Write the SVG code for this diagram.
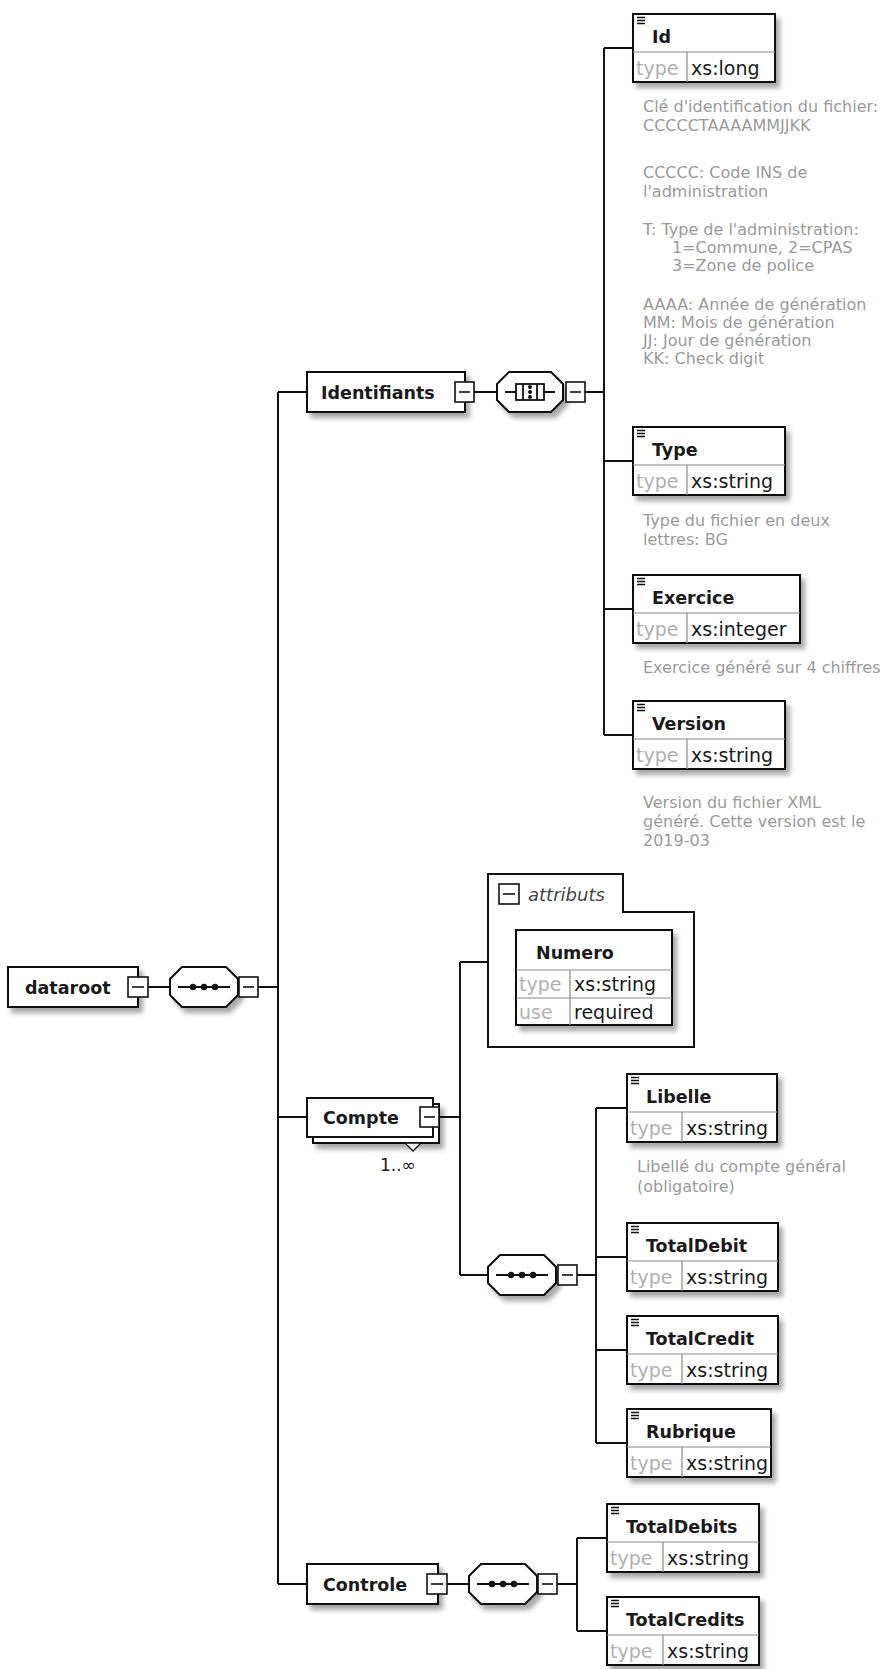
<svg xmlns="http://www.w3.org/2000/svg" width="883" height="1669" viewBox="0 0 883 1669">
<defs>
<filter id="sh" x="-10%" y="-10%" width="130%" height="150%">
<feDropShadow dx="4" dy="5" stdDeviation="2.5" flood-color="#000" flood-opacity="0.35"/>
</filter>
<style>
.box{fill:#fff;stroke:#111;stroke-width:2}
.sep{fill:none;stroke:#8a8a8a;stroke-width:1.2}
.ico{fill:none;stroke:#111;stroke-width:1.3}
.sq{fill:#fff;stroke:#111;stroke-width:1.6}
.mn{fill:none;stroke:#111;stroke-width:1.6}
.oct{fill:#fff;stroke:#111;stroke-width:2}
.ln{fill:none;stroke:#111;stroke-width:2}
.sym{fill:none;stroke:#111;stroke-width:1.8}
.dot{fill:#111}
.nm{font-family:"DejaVu Sans","Liberation Sans",sans-serif;font-weight:bold;font-size:17.5px;fill:#1a1a1a}
.tl{font-family:"DejaVu Sans","Liberation Sans",sans-serif;font-size:19px;fill:#b0b0b0}
.tv{font-family:"DejaVu Sans","Liberation Sans",sans-serif;font-size:19px;fill:#1a1a1a}
.an{font-family:"DejaVu Sans","Liberation Sans",sans-serif;font-size:16px;fill:#9a9a9a}
.it{font-family:"DejaVu Sans","Liberation Sans",sans-serif;font-style:italic;font-size:18px;fill:#444}
.oc{font-family:"DejaVu Sans","Liberation Sans",sans-serif;font-size:17px;fill:#1a1a1a}
</style>
</defs>
<rect width="883" height="1669" fill="#fff"/>

<g id="connectors">
<path class="ln" d="M148,987H170M258,987H278"/>
<path class="ln" d="M278,392V1584M278,392H307M278,1117H307M278,1584H307"/>
<path class="ln" d="M474,392H497M585,392H604"/>
<path class="ln" d="M604,48V735M604,48H633M604,461H633M604,609H633M604,735H633"/>
<path class="ln" d="M439,1117H460M460,962V1275M460,962H488M460,1275H488"/>
<path class="ln" d="M577,1275H596M596,1108V1443M596,1108H627M596,1257H627M596,1350H627M596,1443H627"/>
<path class="ln" d="M447,1584H469M557,1584H577M577,1538V1631M577,1538H607M577,1631H607"/>
</g>

<g id="n-dataroot">
<rect class="box" x="8" y="967" width="130" height="40" filter="url(#sh)"/>
<text class="nm" x="25" y="994">dataroot</text>
<rect class="sq" x="128" y="977" width="20" height="20"/>
<path class="mn" d="M132,987H144"/>
</g>

<g id="n-dataroot-seq">
<polygon class="oct" points="182,967 226,967 238,979 238,995 226,1007 182,1007 170,995 170,979" filter="url(#sh)"/>
<path class="sym" d="M178,987H230"/>
<circle class="dot" cx="193" cy="987" r="3.2"/><circle class="dot" cx="204" cy="987" r="3.2"/><circle class="dot" cx="215" cy="987" r="3.2"/>
<rect class="sq" x="239" y="977" width="19" height="20"/>
<path class="mn" d="M243,987H254"/>
</g>

<g id="n-Identifiants">
<rect class="box" x="307" y="372" width="158" height="40" filter="url(#sh)"/>
<text class="nm" x="321" y="399">Identifiants</text>
<rect class="sq" x="455" y="382" width="19" height="20"/>
<path class="mn" d="M459,392H470"/>
</g>

<g id="n-Identifiants-all">
<polygon class="oct" points="509,372 551,372 563,384 563,400 551,412 509,412 497,400 497,384" filter="url(#sh)"/>
<path class="sym" d="M505,392H516M544,392H555"/>
<rect class="sym" x="516" y="384" width="28" height="16"/>
<path class="sym" d="M523,384V400M537,384V400"/>
<circle class="dot" cx="530" cy="387" r="2"/><circle class="dot" cx="530" cy="392" r="2"/><circle class="dot" cx="530" cy="397" r="2"/>
<rect class="sq" x="566" y="382" width="19" height="20"/>
<path class="mn" d="M570,392H581"/>
</g>

<g id="n-Id" transform="translate(633,14)">
<rect class="box" width="142" height="68" filter="url(#sh)"/>
<path class="sep" d="M0,38H142M54,38V68"/>
<path class="ico" d="M4,3.5H12M4,6.5H12M4,9.5H12"/>
<text class="nm" x="19" y="29">Id</text>
<text class="tl" x="3" y="61">type</text>
<text class="tv" x="58" y="61">xs:long</text>
</g>
<g id="a-Id" class="an">
<text x="643" y="112">Clé d'identification du fichier:</text>
<text x="643" y="131">CCCCCTAAAAMMJJKK</text>
<text x="643" y="178">CCCCC: Code INS de</text>
<text x="643" y="197">l'administration</text>
<text x="643" y="235">T: Type de l'administration:</text>
<text x="672" y="253">1=Commune, 2=CPAS</text>
<text x="672" y="271">3=Zone de police</text>
<text x="643" y="310">AAAA: Année de génération</text>
<text x="643" y="328">MM: Mois de génération</text>
<text x="643" y="346">JJ: Jour de génération</text>
<text x="643" y="364">KK: Check digit</text>
</g>

<g id="n-Type" transform="translate(633,427)">
<rect class="box" width="152" height="68" filter="url(#sh)"/>
<path class="sep" d="M0,38H152M54,38V68"/>
<path class="ico" d="M4,3.5H12M4,6.5H12M4,9.5H12"/>
<text class="nm" x="19" y="29">Type</text>
<text class="tl" x="3" y="61">type</text>
<text class="tv" x="58" y="61">xs:string</text>
</g>
<g id="a-Type" class="an">
<text x="643" y="526">Type du fichier en deux</text>
<text x="643" y="545">lettres: BG</text>
</g>

<g id="n-Exercice" transform="translate(633,575)">
<rect class="box" width="167" height="68" filter="url(#sh)"/>
<path class="sep" d="M0,38H167M54,38V68"/>
<path class="ico" d="M4,3.5H12M4,6.5H12M4,9.5H12"/>
<text class="nm" x="19" y="29">Exercice</text>
<text class="tl" x="3" y="61">type</text>
<text class="tv" x="58" y="61">xs:integer</text>
</g>
<g id="a-Exercice" class="an">
<text x="643" y="673">Exercice généré sur 4 chiffres</text>
</g>

<g id="n-Version" transform="translate(633,701)">
<rect class="box" width="152" height="68" filter="url(#sh)"/>
<path class="sep" d="M0,38H152M54,38V68"/>
<path class="ico" d="M4,3.5H12M4,6.5H12M4,9.5H12"/>
<text class="nm" x="19" y="29">Version</text>
<text class="tl" x="3" y="61">type</text>
<text class="tv" x="58" y="61">xs:string</text>
</g>
<g id="a-Version" class="an">
<text x="643" y="808">Version du fichier XML</text>
<text x="643" y="827">généré. Cette version est le</text>
<text x="643" y="846">2019-03</text>
</g>

<g id="n-Compte">
<rect class="box" x="313" y="1104" width="126" height="39" filter="url(#sh)"/>
<rect class="box" x="307" y="1098" width="126" height="39"/>
<text class="nm" x="323" y="1124">Compte</text>
<rect class="sq" x="420" y="1107" width="19" height="20"/>
<path class="mn" d="M424,1117H435"/>
<polygon class="box" points="405,1143 421,1143 413,1151" style="stroke-width:1.4"/>
<text class="oc" x="380" y="1171">1..∞</text>
</g>

<g id="n-attributs">
<path class="box" d="M488,874H623V912H694V1047H488Z"/>
<rect class="sq" x="499" y="884" width="20" height="20"/>
<path class="mn" d="M503,894H515"/>
<text class="it" x="528" y="901">attributs</text>
</g>

<g id="n-Numero" transform="translate(516,930)">
<rect class="box" width="156" height="95" filter="url(#sh)"/>
<path class="sep" d="M0,40H156M0,68H156M54,40V95"/>
<text class="nm" x="20" y="29">Numero</text>
<text class="tl" x="3" y="61">type</text>
<text class="tv" x="58" y="61">xs:string</text>
<text class="tl" x="3" y="89">use</text>
<text class="tv" x="58" y="89">required</text>
</g>

<g id="n-Compte-seq">
<polygon class="oct" points="500,1255 544,1255 556,1267 556,1283 544,1295 500,1295 488,1283 488,1267" filter="url(#sh)"/>
<path class="sym" d="M496,1275H548"/>
<circle class="dot" cx="511" cy="1275" r="3.2"/><circle class="dot" cx="522" cy="1275" r="3.2"/><circle class="dot" cx="533" cy="1275" r="3.2"/>
<rect class="sq" x="558" y="1265" width="19" height="20"/>
<path class="mn" d="M562,1275H573"/>
</g>

<g id="n-Libelle" transform="translate(627,1074)">
<rect class="box" width="150" height="68" filter="url(#sh)"/>
<path class="sep" d="M0,38H150M55,38V68"/>
<path class="ico" d="M4,3.5H12M4,6.5H12M4,9.5H12"/>
<text class="nm" x="19" y="29">Libelle</text>
<text class="tl" x="3" y="61">type</text>
<text class="tv" x="59" y="61">xs:string</text>
</g>
<g id="a-Libelle" class="an">
<text x="637" y="1172">Libellé du compte général</text>
<text x="637" y="1192">(obligatoire)</text>
</g>

<g id="n-TotalDebit" transform="translate(627,1223)">
<rect class="box" width="151" height="68" filter="url(#sh)"/>
<path class="sep" d="M0,38H151M55,38V68"/>
<path class="ico" d="M4,3.5H12M4,6.5H12M4,9.5H12"/>
<text class="nm" x="19" y="29">TotalDebit</text>
<text class="tl" x="3" y="61">type</text>
<text class="tv" x="59" y="61">xs:string</text>
</g>

<g id="n-TotalCredit" transform="translate(627,1316)">
<rect class="box" width="151" height="68" filter="url(#sh)"/>
<path class="sep" d="M0,38H151M55,38V68"/>
<path class="ico" d="M4,3.5H12M4,6.5H12M4,9.5H12"/>
<text class="nm" x="19" y="29">TotalCredit</text>
<text class="tl" x="3" y="61">type</text>
<text class="tv" x="59" y="61">xs:string</text>
</g>

<g id="n-Rubrique" transform="translate(627,1409)">
<rect class="box" width="144" height="68" filter="url(#sh)"/>
<path class="sep" d="M0,38H144M55,38V68"/>
<path class="ico" d="M4,3.5H12M4,6.5H12M4,9.5H12"/>
<text class="nm" x="19" y="29">Rubrique</text>
<text class="tl" x="3" y="61">type</text>
<text class="tv" x="59" y="61">xs:string</text>
</g>

<g id="n-Controle">
<rect class="box" x="307" y="1564" width="131" height="40" filter="url(#sh)"/>
<text class="nm" x="323" y="1591">Controle</text>
<rect class="sq" x="427" y="1574" width="20" height="20"/>
<path class="mn" d="M431,1584H443"/>
</g>

<g id="n-Controle-seq">
<polygon class="oct" points="481,1564 525,1564 537,1576 537,1592 525,1604 481,1604 469,1592 469,1576" filter="url(#sh)"/>
<path class="sym" d="M477,1584H529"/>
<circle class="dot" cx="492" cy="1584" r="3.2"/><circle class="dot" cx="503" cy="1584" r="3.2"/><circle class="dot" cx="514" cy="1584" r="3.2"/>
<rect class="sq" x="538" y="1574" width="19" height="20"/>
<path class="mn" d="M542,1584H553"/>
</g>

<g id="n-TotalDebits" transform="translate(607,1504)">
<rect class="box" width="152" height="68" filter="url(#sh)"/>
<path class="sep" d="M0,38H152M56,38V68"/>
<path class="ico" d="M4,3.5H12M4,6.5H12M4,9.5H12"/>
<text class="nm" x="19" y="29">TotalDebits</text>
<text class="tl" x="3" y="61">type</text>
<text class="tv" x="60" y="61">xs:string</text>
</g>

<g id="n-TotalCredits" transform="translate(607,1597)">
<rect class="box" width="152" height="68" filter="url(#sh)"/>
<path class="sep" d="M0,38H152M56,38V68"/>
<path class="ico" d="M4,3.5H12M4,6.5H12M4,9.5H12"/>
<text class="nm" x="19" y="29">TotalCredits</text>
<text class="tl" x="3" y="61">type</text>
<text class="tv" x="60" y="61">xs:string</text>
</g>
</svg>
